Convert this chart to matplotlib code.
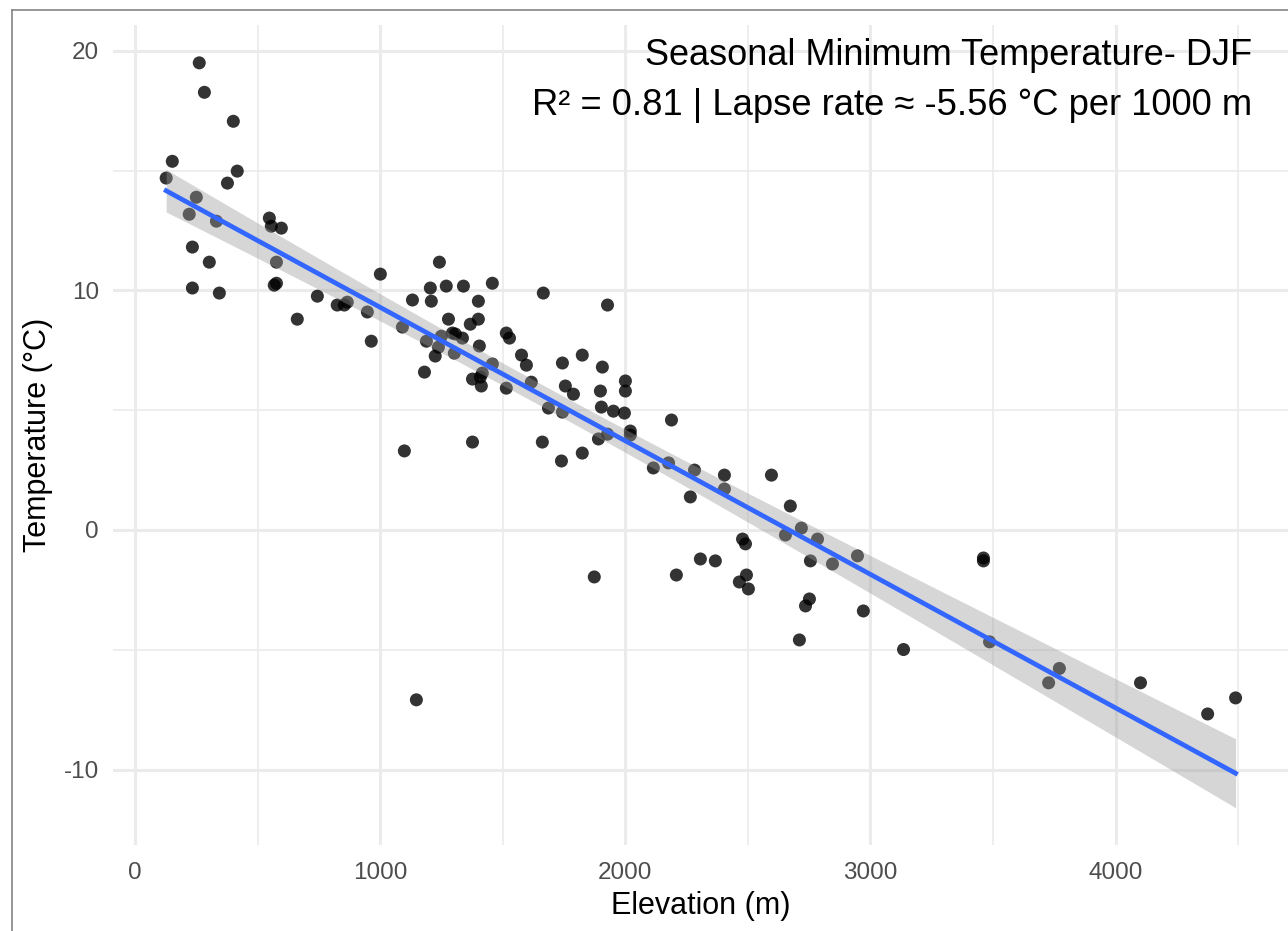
import numpy as np
import matplotlib
matplotlib.use("Agg")
import matplotlib.pyplot as plt
from matplotlib.lines import Line2D
from matplotlib.ticker import MultipleLocator

# station elevation (m) and DJF seasonal minimum temperature (degC)
elevation = [
    126, 151, 261, 282, 400, 416, 376, 249, 220, 331,
    233, 302, 233, 343, 547, 555, 596, 576, 567, 576,
    661, 743, 824, 853, 865, 947, 1000, 963, 1090, 1131,
    1204, 1208, 1241, 1269, 1339, 1457, 1400, 1278, 1367, 1400,
    1188, 1249, 1294, 1306, 1335, 1237, 1224, 1302, 1404, 1514,
    1527, 1180, 1457, 1416, 1408, 1376, 1412, 1514, 1576, 1596,
    1616, 1665, 1743, 1824, 1906, 1927, 1755, 1788, 1898, 2000,
    2000, 1686, 1743, 1902, 1951, 1996, 2020, 2020, 1927, 1890,
    1661, 1376, 1098, 1739, 1824, 2188, 2114, 2176, 2282, 2265,
    2404, 2404, 2596, 2673, 2718, 2653, 2784, 2845, 2755, 2947,
    2478, 2490, 2306, 2367, 2208, 2494, 3461, 3461, 2465, 2502,
    1873, 2735, 2751, 2710, 2971, 3135, 3486, 3771, 3727, 4102,
    4376, 4490, 1147,
]
tmin = [
    14.69, 15.39, 19.50, 18.27, 17.06, 14.98, 14.48, 13.89, 13.18, 12.89,
    11.81, 11.18, 10.10, 9.89, 13.02, 12.68, 12.60, 11.18, 10.22, 10.30,
    8.80, 9.76, 9.39, 9.39, 9.51, 9.10, 10.68, 7.88, 8.47, 9.60,
    10.10, 9.55, 11.18, 10.18, 10.18, 10.30, 9.55, 8.80, 8.59, 8.80,
    7.88, 8.09, 8.22, 8.18, 8.01, 7.63, 7.26, 7.38, 7.68, 8.22,
    8.01, 6.59, 6.93, 6.55, 6.38, 6.30, 6.01, 5.92, 7.30, 6.88,
    6.17, 9.89, 6.97, 7.30, 6.80, 9.39, 6.01, 5.67, 5.80, 6.22,
    5.80, 5.09, 4.92, 5.13, 4.96, 4.88, 4.13, 3.96, 4.00, 3.80,
    3.67, 3.67, 3.30, 2.88, 3.21, 4.59, 2.59, 2.80, 2.50, 1.38,
    2.29, 1.71, 2.29, 1.00, 0.08, -0.21, -0.38, -1.42, -1.29, -1.08,
    -0.38, -0.58, -1.21, -1.29, -1.88, -1.88, -1.17, -1.29, -2.17, -2.46,
    -1.96, -3.17, -2.88, -4.59, -3.38, -4.99, -4.67, -5.78, -6.38, -6.38,
    -7.68, -7.01, -7.09,
]

TITLE = "Seasonal Minimum Temperature- DJF"
SUBTITLE = "R\u00b2 = 0.81 | Lapse rate \u2248 -5.56 \u00b0C per 1000 m"

plt.rcParams["font.family"] = ["Liberation Sans", "DejaVu Sans"]
plt.rcParams["axes.unicode_minus"] = False

x = np.asarray(elevation, dtype=float)
y = np.asarray(tmin, dtype=float)

# linear fit + 95% confidence band (lm, like geom_smooth)
slope, icpt = np.polyfit(x, y, 1)
n = len(x)
resid = y - (slope * x + icpt)
s = np.sqrt(np.sum(resid ** 2) / (n - 2))
sxx = np.sum((x - x.mean()) ** 2)
xg = np.linspace(x.min(), x.max(), 200)
yg = slope * xg + icpt
se = s * np.sqrt(1.0 / n + (xg - x.mean()) ** 2 / sxx)
tval = 1.98
lo, hi = yg - tval * se, yg + tval * se

fig = plt.figure(figsize=(12.88, 9.31), dpi=100)
ax = fig.add_axes([113 / 1288, 1 - 845 / 931, 1176 / 1288, 820 / 931])

ax.scatter(x, y, s=88, color="black", alpha=0.8, edgecolors="none", zorder=3)
ax.fill_between(xg, lo, hi, color="#999999", alpha=0.4, linewidth=0, zorder=4)
ax.plot(xg, yg, color="#3366FF", linewidth=3.4, zorder=5)

ax.set_xlim(-91, 4708)
ax.set_ylim(-13.15, 21.08)
ax.xaxis.set_major_locator(MultipleLocator(1000))
ax.xaxis.set_minor_locator(MultipleLocator(500))
ax.yaxis.set_major_locator(MultipleLocator(10))
ax.yaxis.set_minor_locator(MultipleLocator(5))
ax.grid(which="major", color="#EBEBEB", linewidth=2.2, zorder=0)
ax.grid(which="minor", color="#EBEBEB", linewidth=1.2, zorder=0)
ax.set_axisbelow(True)
for sp in ax.spines.values():
    sp.set_visible(False)
ax.tick_params(which="both", length=0)
ax.tick_params(axis="x", pad=12, labelsize=17.5, labelcolor="#4D4D4D")
ax.tick_params(axis="y", pad=10, labelsize=17.5, labelcolor="#4D4D4D")

ax.set_xlabel("Elevation (m)", fontsize=22, labelpad=5)
ax.set_ylabel("Temperature (\u00b0C)", fontsize=22, labelpad=8)

ax.text(0.969, 0.963, TITLE, transform=ax.transAxes, ha="right", va="center", fontsize=26)
ax.text(0.969, 0.902, SUBTITLE, transform=ax.transAxes, ha="right", va="center", fontsize=26.2)

# screenshot frame (left and top edges)
fig.add_artist(Line2D([12 / 1288, 12 / 1288], [0, 1 - 10 / 931], transform=fig.transFigure,
                      color="#858585", linewidth=1.2))
fig.add_artist(Line2D([12 / 1288, 1], [1 - 10 / 931, 1 - 10 / 931], transform=fig.transFigure,
                      color="#858585", linewidth=1.2))

fig.savefig("out.png", dpi=100)
